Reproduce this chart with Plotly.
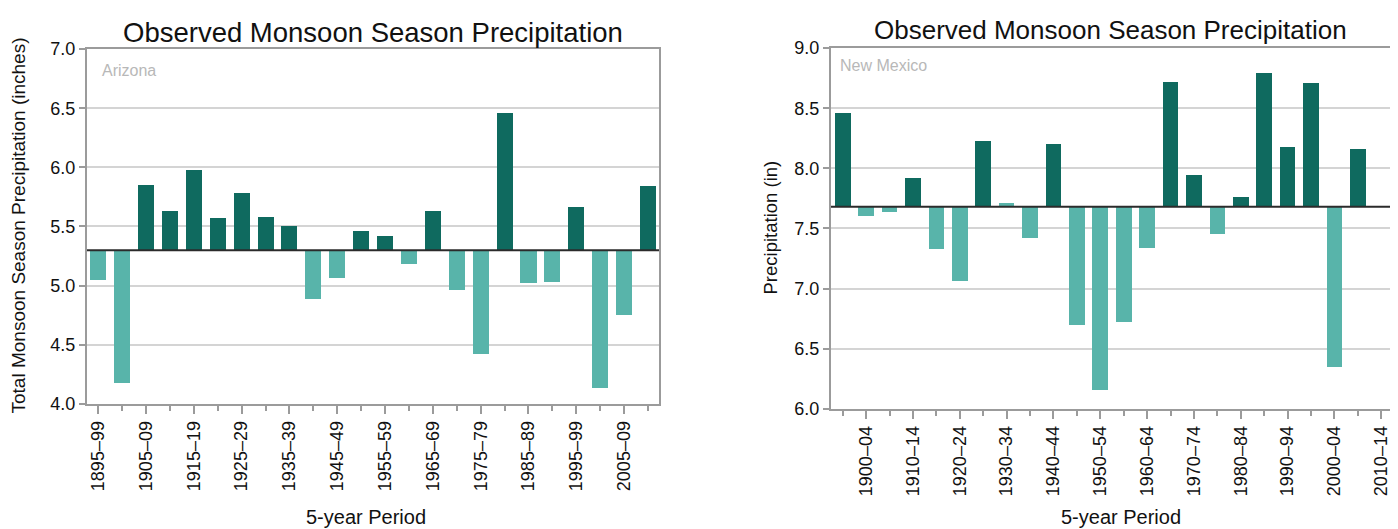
import plotly.graph_objects as go

# ---------------- data ----------------
az_periods = ["1895–99", "1900–04", "1905–09", "1910–14", "1915–19", "1920–24",
              "1925–29", "1930–34", "1935–39", "1940–44", "1945–49", "1950–54",
              "1955–59", "1960–64", "1965–69", "1970–74", "1975–79", "1980–84",
              "1985–89", "1990–94", "1995–99", "2000–04", "2005–09", "2010–14"]
az_values = [5.05, 4.18, 5.85, 5.63, 5.98, 5.57, 5.78, 5.58, 5.50, 4.89, 5.06, 5.46,
             5.42, 5.18, 5.63, 4.96, 4.42, 6.46, 5.02, 5.03, 5.66, 4.13, 4.75, 5.84]
az_baseline = 5.30

nm_periods = az_periods
nm_values = [8.46, 7.60, 7.64, 7.92, 7.33, 7.06, 8.23, 7.71, 7.42, 8.20, 6.70, 6.16,
             6.72, 7.34, 8.72, 7.94, 7.45, 7.76, 8.79, 8.18, 8.71, 6.35, 8.16, None]
nm_baseline = 7.68

DARK = "#0f6a5f"
LIGHT = "#58b4aa"
W, H = 1398, 529


# positions given as screen pixels of the photographed page;
# converted to figure pixels (page offset / scaling compensation)
def px_x(p):
    return (p - 8) / W


def px_y(p):
    return 1 - ((p - 19) / 0.96) / H


def bar_trace(periods, values, base, xa, ya):
    xs = list(range(len(periods)))
    ys = [None if v is None else v - base for v in values]
    cols = [LIGHT if (v is None or v - base < 0.035) else DARK for v in values]
    return go.Bar(x=xs, y=ys, base=base, marker=dict(color=cols, line=dict(width=0)),
                  width=0.67, xaxis=xa, yaxis=ya, showlegend=False,
                  customdata=periods,
                  hovertemplate="%{customdata}: %{y:.2f}<extra></extra>")


fig = go.Figure()
fig.add_trace(bar_trace(az_periods, az_values, az_baseline, "x", "y"))
fig.add_trace(bar_trace(nm_periods, nm_values, nm_baseline, "x2", "y2"))

font = "Liberation Sans, Arial, sans-serif"
tickfont = dict(family=font, size=18, color="#111")
axis_common = dict(showline=True, mirror=True, linecolor="#9b9b9b", linewidth=2,
                   zeroline=False)

az_idx = list(range(0, len(az_periods), 2))
nm_idx = list(range(1, len(nm_periods), 2))

fig.update_layout(
    width=W, height=H,
    margin=dict(l=0, r=0, t=0, b=0),
    plot_bgcolor="white", paper_bgcolor="white",
    bargap=0,
    xaxis=dict(domain=[px_x(87), px_x(659)], range=[-0.47, 23.46],
               tickmode="array", tickvals=az_idx, ticktext=[az_periods[i] for i in az_idx],
               tickangle=-90, ticks="outside", ticklen=8, tickcolor="#9b9b9b", tickwidth=2,
               minor=dict(ticks="outside", ticklen=5, tickcolor="#9b9b9b", tickwidth=2,
                          dtick=1, tick0=0),
               showgrid=False, tickfont=tickfont, anchor="y", **axis_common),
    yaxis=dict(domain=[px_y(404), px_y(50)], range=[4.0, 7.0], dtick=0.5, tickformat=".1f",
               ticks="outside", ticklen=6, tickcolor="#9b9b9b", tickwidth=2,
               showgrid=True, gridcolor="#d4d4d4", gridwidth=2,
               tickfont=tickfont, anchor="x", **axis_common),
    xaxis2=dict(domain=[px_x(831), min(1.0, px_x(1393))], range=[-0.5, 23.5],
                tickmode="array", tickvals=nm_idx, ticktext=[nm_periods[i] for i in nm_idx],
                tickangle=-90, ticks="outside", ticklen=8, tickcolor="#9b9b9b", tickwidth=2,
                minor=dict(ticks="outside", ticklen=5, tickcolor="#9b9b9b", tickwidth=2,
                           dtick=1, tick0=0),
                showgrid=False, tickfont=tickfont, anchor="y2", **axis_common),
    yaxis2=dict(domain=[px_y(409), px_y(49)], range=[6.0, 9.0], dtick=0.5, tickformat=".1f",
                ticks="outside", ticklen=6, tickcolor="#9b9b9b", tickwidth=2,
                showgrid=True, gridcolor="#d4d4d4", gridwidth=2,
                tickfont=tickfont, anchor="x2", **axis_common),
)

# baselines (reference level of each series)
fig.add_shape(type="line", xref="x domain", yref="y", x0=0, x1=1, y0=az_baseline, y1=az_baseline,
              line=dict(color="#2b2b2b", width=2), layer="above")
fig.add_shape(type="line", xref="x2 domain", yref="y2", x0=0, x1=1, y0=nm_baseline, y1=nm_baseline,
              line=dict(color="#2b2b2b", width=2), layer="above")

ann = [
    dict(text="Observed Monsoon Season Precipitation", x=px_x(373), y=px_y(33), size=27.5),
    dict(text="Observed Monsoon Season Precipitation", x=px_x(1110), y=px_y(31), size=26),
    dict(text="5-year Period", x=px_x(366), y=px_y(517), size=20),
    dict(text="5-year Period", x=px_x(1121), y=px_y(517), size=20),
]
for a in ann:
    fig.add_annotation(text=a["text"], x=a["x"], y=a["y"], xref="paper", yref="paper",
                       showarrow=False, xanchor="center", yanchor="middle",
                       font=dict(family=font, size=a["size"], color="#111"))

fig.add_annotation(text="Total Monsoon Season Precipitation (inches)", x=px_x(18), y=px_y(226),
                   xref="paper", yref="paper", showarrow=False, textangle=-90,
                   xanchor="center", yanchor="middle",
                   font=dict(family=font, size=19, color="#111"))
fig.add_annotation(text="Precipitation (in)", x=px_x(770), y=px_y(228),
                   xref="paper", yref="paper", showarrow=False, textangle=-90,
                   xanchor="center", yanchor="middle",
                   font=dict(family=font, size=18.5, color="#111"))

fig.add_annotation(text="Arizona", x=px_x(100), y=px_y(71), xref="paper", yref="paper",
                   showarrow=False, xanchor="left", yanchor="middle",
                   font=dict(family=font, size=16, color="#b8b8b8"))
fig.add_annotation(text="New Mexico", x=px_x(838), y=px_y(66), xref="paper", yref="paper",
                   showarrow=False, xanchor="left", yanchor="middle",
                   font=dict(family=font, size=16, color="#b8b8b8"))

fig.write_html("out.html")
